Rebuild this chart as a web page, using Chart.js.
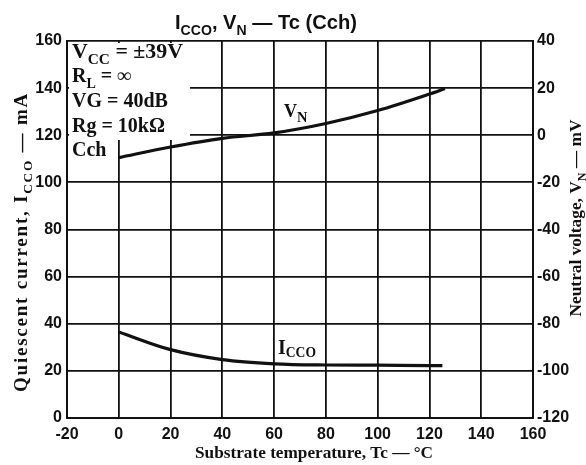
<!DOCTYPE html>
<html>
<head>
<meta charset="utf-8">
<script src="https://cdn.jsdelivr.net/npm/chart.js@4.4.0/dist/chart.umd.min.js"></script>
<style>
  html, body { margin: 0; padding: 0; background: #fff; }
</style>
</head>
<body>
<canvas id="chart" width="586" height="465"></canvas>
<script>
// values
const vnTemps = [0, 20, 40, 60, 80, 100, 120, 126];
const vnValues = [-9.5, -5, -1.3, 1, 5, 10.5, 17.5, 19.8];
const iccoTemps = [0, 20, 40, 60, 80, 100, 120, 125];
const iccoValues = [36.5, 29, 24.8, 23, 22.5, 22.4, 22.2, 22.2];

const xTicks = [-20, 0, 20, 40, 60, 80, 100, 120, 140, 160];
const leftTicks = [0, 20, 40, 60, 80, 100, 120, 140, 160];
const rightTicks = [-120, -100, -80, -60, -40, -20, 0, 20, 40];

// [text, subscript?]
const titleParts = [['I', false], ['CCO', true], [', V', false], ['N', true], [' — Tc (Cch)', false]];
const leftTitleParts = [['Quiescent current, I', false], ['CCO', true], [' — mA', false]];
const rightTitleParts = [['Neutral voltage, V', false], ['N', true], [' — mV', false]];
const bottomTitleParts = [['Substrate temperature, Tc — °C', false]];
const conditionLines = [
  [['V', false], ['CC', true], [' = ±39V', false]],
  [['R', false], ['L', true], [' = ∞', false]],
  [['VG = 40dB', false]],
  [['Rg = 10kΩ', false]],
  [['Cch', false]]
];
const vnLabel = [['V', false], ['N', true]];
const iccoLabel = [['I', false], ['CCO', true]];

const SERIF = '"Liberation Serif", "DejaVu Serif", serif';
const SANS = '"Liberation Sans", Arial, sans-serif';
const INK = '#111';

function richWidth(ctx, parts, size, family, subRatio) {
  let w = 0;
  parts.forEach(([t, sub]) => {
    ctx.font = `bold ${sub ? size * subRatio : size}px ${family}`;
    w += ctx.measureText(t).width;
  });
  return w;
}

// draws text with subscripts; opts.width squeezes/stretches it to that width
function drawRich(ctx, parts, x, y, opts) {
  const family = opts.family || SERIF;
  const subRatio = opts.subRatio || 0.7;
  const size = opts.size || 16;
  const natural = richWidth(ctx, parts, size, family, subRatio);
  const total = opts.width || natural;
  let sx = 1;
  let spacing = 0;
  if (opts.width) {
    if (opts.fit === 'spacing' && 'letterSpacing' in ctx) {
      const chars = parts.reduce((n, [t]) => n + t.length, 0);
      spacing = (opts.width - natural) / chars;
    } else {
      sx = opts.width / natural;
    }
  }
  const x0 = opts.align === 'center' ? x - total / 2 : x;
  ctx.save();
  ctx.translate(x0, y);
  ctx.scale(sx, 1);
  if (spacing) ctx.letterSpacing = spacing + 'px';
  ctx.fillStyle = INK;
  ctx.textAlign = 'left';
  ctx.textBaseline = 'alphabetic';
  let cx = 0;
  parts.forEach(([t, sub]) => {
    ctx.font = `bold ${sub ? size * subRatio : size}px ${family}`;
    ctx.fillText(t, cx, sub ? size * (opts.subDrop || 0.28) : 0);
    cx += ctx.measureText(t).width;
  });
  ctx.restore();
}

const textPlugin = {
  id: 'texts',
  beforeDatasetsDraw(chart) {
    // the condition box hides the grid in the top-left corner
    const ctx = chart.ctx;
    ctx.save();
    ctx.fillStyle = '#fff';
    ctx.fillRect(chart.chartArea.left + 2, chart.chartArea.top + 2, 121, 97);
    ctx.restore();
  },
  afterDraw(chart) {
    const ctx = chart.ctx;
    ctx.save();
    drawRich(ctx, titleParts, 266, 29, { family: SANS, size: 21, width: 182, align: 'center' });
    drawRich(ctx, bottomTitleParts, 314, 458, { size: 17, width: 238, align: 'center' });

    ctx.save();
    ctx.translate(27, 242);
    ctx.rotate(-Math.PI / 2);
    drawRich(ctx, leftTitleParts, 0, 0, { size: 19, width: 300, fit: 'spacing', align: 'center' });
    ctx.restore();

    ctx.save();
    ctx.translate(581, 218);
    ctx.rotate(-Math.PI / 2);
    drawRich(ctx, rightTitleParts, 0, 0, { size: 17, width: 197, align: 'center' });
    ctx.restore();

    const baselines = [58, 82, 107, 132, 156];
    conditionLines.forEach((line, i) => {
      drawRich(ctx, line, 72, baselines[i], { size: 20, width: i === 0 ? 111 : null });
    });

    drawRich(ctx, vnLabel, 284, 117, { size: 18, subRatio: 0.8, subDrop: 0.3 });
    drawRich(ctx, iccoLabel, 278, 354, { size: 20, subRatio: 0.68, subDrop: 0.15 });
    ctx.restore();
  }
};

const gridStyle = { color: INK, lineWidth: 1.8, drawTicks: false };
const tickFont = { family: SANS, size: 16, weight: 'bold' };

new Chart(document.getElementById('chart'), {
  type: 'line',
  data: {
    datasets: [
      {
        label: 'VN',
        data: vnTemps.map((t, i) => ({ x: t, y: vnValues[i] })),
        yAxisID: 'y1',
        borderColor: INK,
        borderWidth: 3.2,
        pointRadius: 0,
        cubicInterpolationMode: 'monotone'
      },
      {
        label: 'ICCO',
        data: iccoTemps.map((t, i) => ({ x: t, y: iccoValues[i] })),
        yAxisID: 'y',
        borderColor: INK,
        borderWidth: 3.2,
        pointRadius: 0,
        cubicInterpolationMode: 'monotone'
      }
    ]
  },
  options: {
    responsive: false,
    animation: false,
    devicePixelRatio: 1,
    layout: { padding: { top: 41 } },
    plugins: { legend: { display: false }, tooltip: { enabled: false } },
    scales: {
      x: {
        type: 'linear',
        min: -20,
        max: 160,
        afterBuildTicks: (s) => { s.ticks = xTicks.map((v) => ({ value: v })); },
        afterFit: (s) => { s.height = 47; },
        grid: gridStyle,
        border: { color: INK, width: 2 },
        ticks: { color: INK, font: tickFont, padding: 7, maxRotation: 0 }
      },
      y: {
        position: 'left',
        min: 0,
        max: 160,
        afterBuildTicks: (s) => { s.ticks = leftTicks.map((v) => ({ value: v })); },
        afterFit: (s) => { s.width = 67; },
        grid: gridStyle,
        border: { color: INK, width: 2 },
        ticks: { color: INK, font: tickFont, padding: 5 }
      },
      y1: {
        position: 'right',
        min: -120,
        max: 40,
        afterBuildTicks: (s) => { s.ticks = rightTicks.map((v) => ({ value: v })); },
        afterFit: (s) => { s.width = 53; },
        grid: { display: false, drawTicks: false },
        border: { color: INK, width: 2 },
        ticks: { color: INK, font: tickFont, padding: 4 }
      }
    }
  },
  plugins: [textPlugin]
});
</script>
</body>
</html>
